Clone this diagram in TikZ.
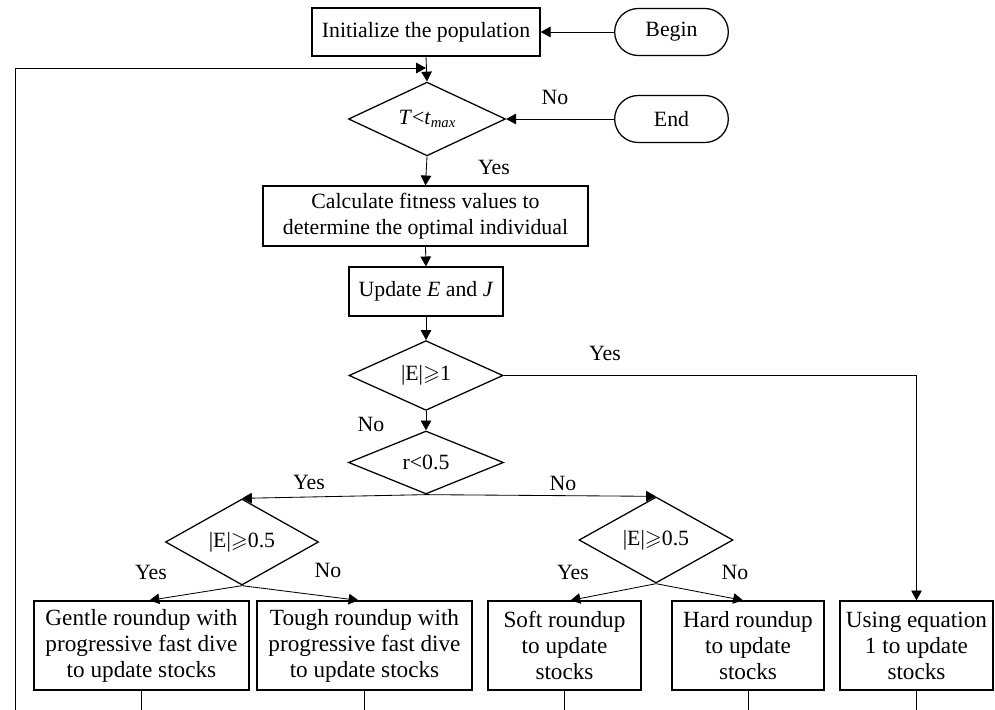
\documentclass[tikz,border=0pt]{standalone}
\usepackage{amssymb}
\usepackage{fontspec}
\setmainfont{Liberation Serif}
\usetikzlibrary{calc,positioning,shapes.geometric,shapes.misc,arrows.meta}

\begin{document}
\begin{tikzpicture}[
  x=0.025cm, y=-0.025cm,
  every node/.style={font=\fontsize{15.5}{18}\selectfont},
  box/.style={draw, line width=0.9pt, rectangle, inner sep=2pt, align=center, minimum height=1.2cm},
  term/.style={draw, line width=0.9pt, rounded rectangle, minimum width=3.075cm, minimum height=1.175cm},
  test/.style={draw, line width=0.9pt, diamond, inner sep=0pt, minimum width=3.85cm, minimum height=1.6cm},
  act/.style={box, minimum width=5.375cm, minimum height=2.225cm, font=\fontsize{16.5}{18.5}\selectfont},
  lab/.style={font=\fontsize{15.5}{18}\selectfont},
  link/.style={line width=0.6pt},
  >={Triangle[length=7pt,width=7.5pt]}
]
\useasboundingbox (0,0) rectangle (995,710);

% --- start and main loop ---
\node[box, minimum width=5.7cm] (init) at (426,32) {Initialize the population};
\node[term] (begin) at (671.5,32) {Begin};
\node[test, minimum width=3.925cm, minimum height=1.825cm] (tmax) at (427,119)
  {\textit{T}<\textit{t}\raisebox{-0.25ex}{\fontsize{10.5}{10.5}\selectfont\textit{max}}};
\node[term] (end) at (671.5,119) {End};
\node[box, minimum width=8.125cm, minimum height=1.5cm] (fit) at (425.5,216)
  {Calculate fitness values to\\determine the optimal individual};
\node[box, minimum width=3.85cm, minimum height=1.225cm] (upd) at (426,291.5) {Update \textit{E} and \textit{J}};
\coordinate (join) at (426,68);
\coordinate (loop) at (15,710);

% --- decisions ---
\node[test, minimum height=1.625cm] (e1) at (426,375.5) {|E|$\geqslant$1};
\node[test, minimum width=3.875cm, minimum height=1.575cm] (r05) at (426,462.5) {r<0.5};
\node[test, minimum width=3.825cm, minimum height=1.45cm] (ea) at (242,542) {|E|$\geqslant$0.5};
\node[test, minimum height=1.6cm] (eb) at (656,540) {|E|$\geqslant$0.5};

% --- update rules ---
\node[act] (gentle) at (141.5,645.5) {Gentle roundup with\\progressive fast dive\\to update stocks};
\node[act] (tough) at (364.5,645.5) {Tough roundup with\\progressive fast dive\\to update stocks};
\node[act, minimum width=3.825cm] (soft) at (564.5,645.5) {Soft roundup\\to update\\stocks};
\node[act, minimum width=3.8cm] (hard) at (748,645.5) {Hard roundup\\to update\\stocks};
\node[act, minimum width=3.825cm] (eqn) at (916.5,645.5) {Using equation\\1 to update\\stocks};

% --- connectors ---
\draw[link,->] (begin.west) -- (init.east);
\draw[link,->] (end.west) -- (tmax.east);
\draw[link,->] (init.south) -- (tmax.north);
\draw[link,->] (loop) |- (join);
\draw[link,->] (tmax.south) -- (fit.north);
\draw[link,->] (fit.south) -- (upd.north);
\draw[link,->] (upd.south) -- (e1.north);
\draw[link,->] (e1.east) -| (eqn.north);
\draw[link,->] (e1.south) -- (r05.north);
\draw[link,->] (r05.south) -- (ea.north);
\draw[link,->] (r05.south) -- (eb.north);
\draw[link,->] (ea.south) -- ($(gentle.north)+(8,0)$);
\draw[link,->] (ea.south) -- ($(tough.north)+(-6,0)$);
\draw[link,->] (eb.south) -- ($(soft.north)+(6,0)$);
\draw[link,->] (eb.south) -- ($(hard.north)+(-5,0)$);
\foreach \n in {gentle,tough,soft,hard,eqn}
  \draw[link] (\n.south) -- (\n.south |- loop);

% --- branch labels ---
\node[lab] (no1) at (555,97) {No};
\node[lab] (yes1) at (494,167) {Yes};
\node[lab] (yes2) at (605,353) {Yes};
\node[lab] (no2) at (371,424) {No};
\node[lab] (yes3) at (309,482) {Yes};
\node[lab] (no3) at (563,483) {No};
\node[lab] (yes4) at (151,572) {Yes};
\node[lab] (no4) at (328,570) {No};
\node[lab] (yes5) at (573,572) {Yes};
\node[lab] (no5) at (735,572) {No};

\end{tikzpicture}
\end{document}
